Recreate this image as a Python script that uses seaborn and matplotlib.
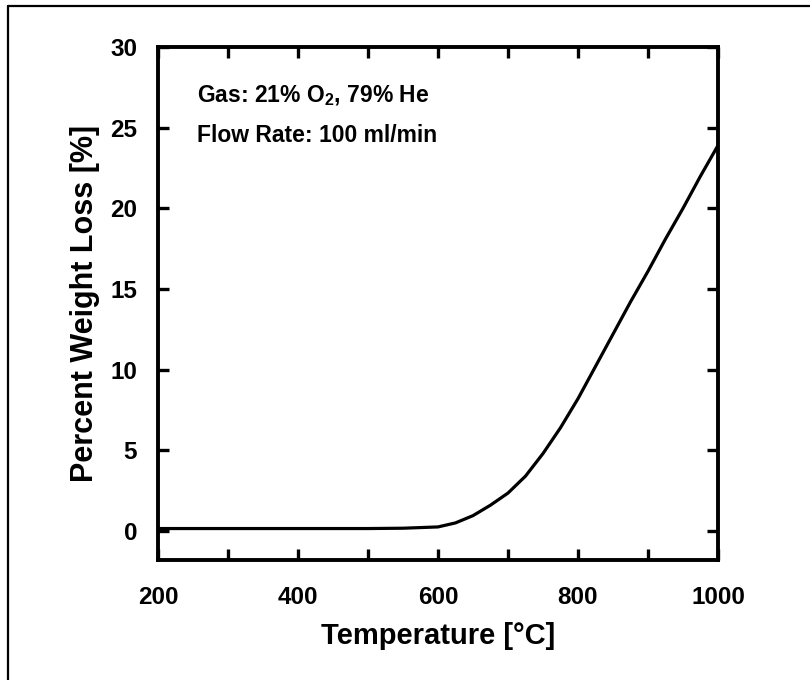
import numpy as np
import pandas as pd
import matplotlib
matplotlib.use("Agg")
import matplotlib.pyplot as plt
import seaborn as sns
from matplotlib.ticker import MultipleLocator
from matplotlib.lines import Line2D

# Data
temperature = [200, 300, 400, 500, 550, 600, 625, 650, 675, 700, 725, 750,
               775, 800, 825, 850, 875, 900, 925, 950, 975, 1000]
weight_loss = [0.15, 0.15, 0.15, 0.15, 0.17, 0.25, 0.5, 0.95, 1.6, 2.35, 3.4, 4.8,
               6.4, 8.2, 10.2, 12.2, 14.2, 16.1, 18.1, 20.0, 22.0, 23.9]
x_tick_labels = [200, 400, 600, 800, 1000]
y_tick_labels = [0, 5, 10, 15, 20, 25, 30]
annotation_lines = ["Gas: 21% O$_2$, 79% He", "Flow Rate: 100 ml/min"]

df = pd.DataFrame({"Temperature": temperature, "Loss": weight_loss})

sns.set_theme(style="ticks")
plt.rcParams["font.family"] = ["Liberation Sans", "DejaVu Sans"]
plt.rcParams["font.weight"] = "bold"
plt.rcParams["text.color"] = "black"
plt.rcParams["axes.labelcolor"] = "black"
plt.rcParams["xtick.color"] = "black"
plt.rcParams["ytick.color"] = "black"
plt.rcParams["mathtext.fontset"] = "custom"
plt.rcParams["mathtext.rm"] = "Liberation Sans:bold"
plt.rcParams["mathtext.it"] = "Liberation Sans:bold"
plt.rcParams["mathtext.bf"] = "Liberation Sans:bold"
plt.rcParams["mathtext.default"] = "rm"

fig = plt.figure(figsize=(8.1, 6.8), dpi=100)
ax = fig.add_axes([158 / 810, 1 - 560 / 680, (718 - 158) / 810, (560 - 47) / 680])

sns.lineplot(data=df, x="Temperature", y="Loss", ax=ax, color="black",
             linewidth=2.3, estimator=None)

ax.set_xlim(200, 1000)
ax.set_ylim(-1.8, 30)
ax.xaxis.set_major_locator(MultipleLocator(200))
ax.xaxis.set_minor_locator(MultipleLocator(100))
ax.set_xticks(x_tick_labels)
ax.set_yticks(y_tick_labels)

for side in ["left", "right", "top", "bottom"]:
    ax.spines[side].set_linewidth(2.8)
    ax.spines[side].set_color("black")

ax.tick_params(axis="both", which="both", direction="in", length=8, width=2.4,
               top=True, right=True, colors="black", labelcolor="black")
ax.tick_params(axis="x", which="both", pad=19, labelsize=17.5)
ax.tick_params(axis="y", which="both", pad=15, labelsize=17.5)
for lbl in ax.get_xticklabels() + ax.get_yticklabels():
    lbl.set_fontweight("bold")

ax.set_xlabel("Temperature [°C]", fontsize=21, fontweight="bold", labelpad=9,
              color="black")
ax.set_ylabel("Percent Weight Loss [%]", fontsize=22, fontweight="bold", labelpad=7,
              color="black")

ax.text(256, 27.0, annotation_lines[0], fontsize=16.5, fontweight="bold",
        va="center", ha="left", color="black")
ax.text(256, 24.5, annotation_lines[1], fontsize=16.5, fontweight="bold",
        va="center", ha="left", color="black")

# outer frame (top and left edges of the scanned figure border)
fig.add_artist(Line2D([8 / 810, 1.0], [1 - 6 / 680, 1 - 6 / 680],
                      transform=fig.transFigure, color="black", linewidth=1.6))
fig.add_artist(Line2D([8 / 810, 8 / 810], [0.0, 1 - 6 / 680],
                      transform=fig.transFigure, color="black", linewidth=1.6))

fig.savefig("out.png", dpi=100)
